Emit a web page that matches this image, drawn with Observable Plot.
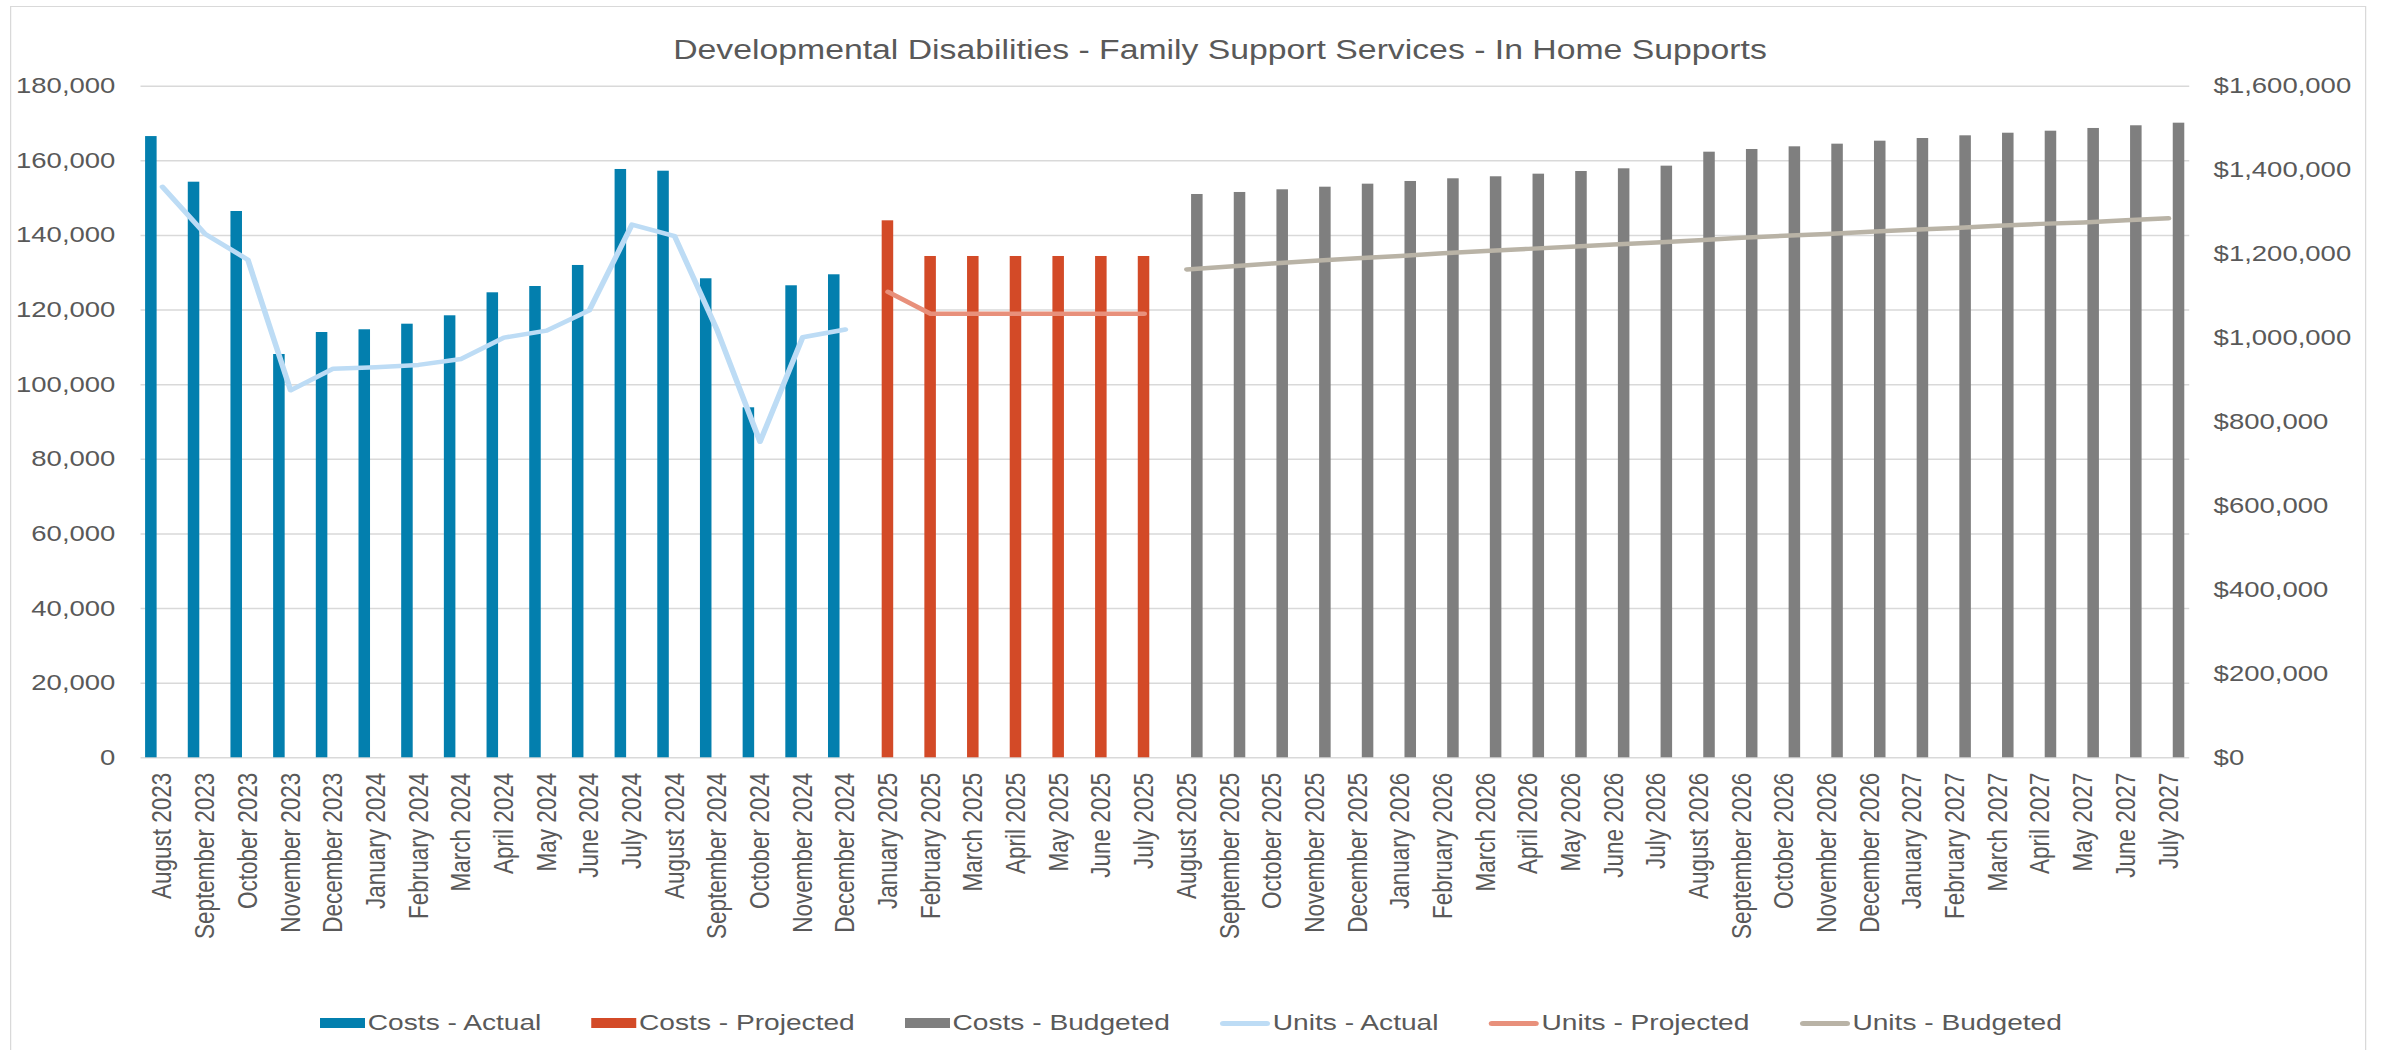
<!DOCTYPE html>
<html>
<head>
<meta charset="utf-8">
<script src="https://cdn.jsdelivr.net/npm/d3@7"></script>
<script src="https://cdn.jsdelivr.net/npm/@observablehq/plot@0.6"></script>
<style>
  html, body { margin: 0; padding: 0; background: #ffffff; overflow: hidden; }
  #page { position: relative; width: 1905.6px; height: 1050px; overflow: hidden; transform: scaleX(1.25); transform-origin: 0 0;
          font-family: "Liberation Sans", Arial, sans-serif; color: #595959; }
  #frame { position: absolute; left: 8px; top: 6px; width: 1884.8px; height: 1060px; border: 1.5px solid #d9d9d9; box-sizing: border-box; }
  #title { position: absolute; left: 476px; width: 1000px; top: 37px; text-align: center; font-size: 27px; line-height: 27px; white-space: nowrap; }
  #chart { position: absolute; left: 0; top: 0; }
  #legend { position: absolute; left: 0; width: 1905.6px; top: 1009px; height: 28px; display: flex; justify-content: center; align-items: center; font-size: 22.5px; white-space: nowrap; }
  .item { display: flex; align-items: center; margin: 0 20px; }
  .sw { width: 35.8px; height: 10.7px; margin-right: 2.4px; }
  .ln { width: 40px; height: 5px; border-radius: 2.5px; margin-right: 2.4px; }
</style>
</head>
<body>
<div id="page">
  <div id="frame"></div>
  <div id="title"></div>
  <div id="chart"></div>
  <div id="legend"></div>
</div>
<script>
const titleText = "Developmental Disabilities - Family Support Services - In Home Supports";

const months = [
  "August 2023","September 2023","October 2023","November 2023","December 2023",
  "January 2024","February 2024","March 2024","April 2024","May 2024","June 2024","July 2024",
  "August 2024","September 2024","October 2024","November 2024","December 2024",
  "January 2025","February 2025","March 2025","April 2025","May 2025","June 2025","July 2025",
  "August 2025","September 2025","October 2025","November 2025","December 2025",
  "January 2026","February 2026","March 2026","April 2026","May 2026","June 2026","July 2026",
  "August 2026","September 2026","October 2026","November 2026","December 2026",
  "January 2027","February 2027","March 2027","April 2027","May 2027","June 2027","July 2027"
];

// Costs (bars, right axis, dollars)
const costsActual = [1480000, 1371300, 1301500, 960800, 1013200, 1019700, 1033000, 1053000, 1107800,
  1122800, 1172900, 1401600, 1397500, 1141200, 833800, 1124500, 1150700];
const costsProjected = [1279300, 1194300, 1194300, 1194300, 1194300, 1194300, 1194300];
const costsBudgeted = [1342000, 1346800, 1353200, 1359400, 1366600, 1373000, 1379400, 1384200,
  1390400, 1396800, 1403200, 1409500, 1442800, 1449200, 1455600, 1461900, 1469000, 1475400,
  1481800, 1488000, 1492800, 1499300, 1505700, 1511900];

// Units (lines, left axis)
const unitsActual = [153000, 140400, 133500, 98500, 104300, 104700, 105300, 106900, 112600,
  114500, 119900, 142900, 139800, 114500, 84700, 112700, 114800];
const unitsProjected = [124900, 119000, 119000, 119000, 119000, 119000, 119000];
const unitsBudgeted = [130900, 131700, 132500, 133200, 133900, 134500, 135200, 135800, 136400,
  137000, 137600, 138100, 138700, 139400, 139900, 140400, 141000, 141500, 142000, 142600,
  143100, 143500, 144100, 144600];

const leftTicks = [0, 20000, 40000, 60000, 80000, 100000, 120000, 140000, 160000, 180000];
const rightTicks = [0, 200000, 400000, 600000, 800000, 1000000, 1200000, 1400000, 1600000];

const seriesNames = ["Costs - Actual", "Costs - Projected", "Costs - Budgeted", "Units - Actual", "Units - Projected", "Units - Budgeted"];
const seriesColors = ["#037fae", "#d34a27", "#7f7f7f", "#bddcf5", "#e8907b", "#b9b3a6"];

const k = 180000 / 1600000; // dollars -> left axis units

const actualRows = months.slice(0, 17).map((m, i) => ({month: m, cost: costsActual[i], units: unitsActual[i]}));
const projectedRows = months.slice(17, 24).map((m, i) => ({month: m, cost: costsProjected[i], units: unitsProjected[i]}));
const budgetedRows = months.slice(24).map((m, i) => ({month: m, cost: costsBudgeted[i], units: unitsBudgeted[i]}));

const W = 1905.6, H = 1000;
const fmt = d3.format(",");

const chart = Plot.plot({
  width: W,
  height: H,
  marginTop: 85.7,
  marginBottom: H - 757.3,
  marginLeft: 112.4,
  marginRight: W - 1751.4,
  style: {fontFamily: "'Liberation Sans', Arial, sans-serif", color: "#595959", background: "transparent", overflow: "visible"},
  x: {type: "band", domain: months, paddingInner: 0.73, paddingOuter: 0.365, round: false},
  y: {domain: [0, 180000]},
  marks: [
    Plot.gridY(leftTicks, {stroke: "#d9d9d9", strokeOpacity: 1, strokeWidth: 1.5}),
    Plot.axisY(leftTicks, {anchor: "left", tickSize: 0, tickPadding: 20.6, tickFormat: fmt, fontSize: 22, label: null}),
    Plot.axisY(rightTicks.map(v => v * k), {anchor: "right", tickSize: 0, tickPadding: 19,
      tickFormat: v => "$" + fmt(Math.round(v / k)), fontSize: 22, label: null}),
    Plot.axisX({tickRotate: -90, tickSize: 0, tickPadding: 15, fontSize: 22.5, label: null}),
    Plot.barY(actualRows, {x: "month", y: d => d.cost * k, fill: seriesColors[0], dx: -8.8}),
    Plot.barY(projectedRows, {x: "month", y: d => d.cost * k, fill: seriesColors[1]}),
    Plot.barY(budgetedRows, {x: "month", y: d => d.cost * k, fill: seriesColors[2], dx: 8.5}),
    Plot.lineY(actualRows, {x: "month", y: "units", stroke: seriesColors[3], strokeWidth: 4.5, strokeLinecap: "round", strokeLinejoin: "round"}),
    Plot.lineY(projectedRows, {x: "month", y: "units", stroke: seriesColors[4], strokeWidth: 4.5, strokeLinecap: "round", strokeLinejoin: "round"}),
    Plot.lineY(budgetedRows, {x: "month", y: "units", stroke: seriesColors[5], strokeWidth: 4.5, strokeLinecap: "round", strokeLinejoin: "round"})
  ]
});
document.getElementById("chart").appendChild(chart);
document.getElementById("title").textContent = titleText;

const legend = document.getElementById("legend");
seriesNames.forEach((name, i) => {
  const item = document.createElement("div");
  item.className = "item";
  const sw = document.createElement("div");
  sw.className = i < 3 ? "sw" : "ln";
  sw.style.background = seriesColors[i];
  const label = document.createElement("span");
  label.textContent = name;
  item.appendChild(sw);
  item.appendChild(label);
  legend.appendChild(item);
});
</script>
</body>
</html>
